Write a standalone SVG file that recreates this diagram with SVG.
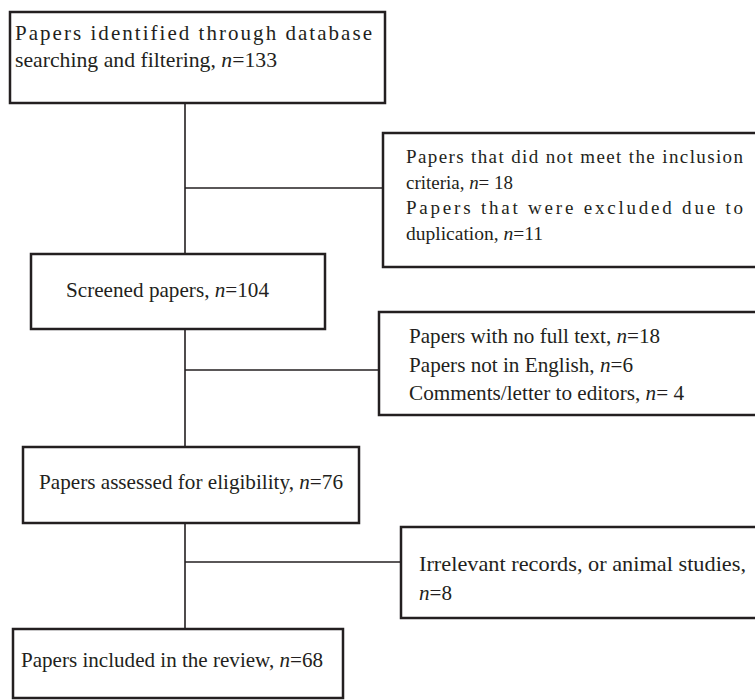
<svg xmlns="http://www.w3.org/2000/svg" width="755" height="700" viewBox="0 0 755 700">
<style>
.box{fill:#fff;stroke:#231f20;stroke-width:2.5}
.ln{stroke:#231f20;stroke-width:1.6;fill:none}
text{font-family:"Liberation Serif","Times New Roman",serif;font-size:21px;fill:#231f20}
.s{font-size:19px}
.i{font-style:italic}
</style>
<rect width="755" height="700" fill="#fff"/>
<g id="connectors">
<line class="ln" x1="185" y1="103" x2="185" y2="254"/>
<line class="ln" x1="185" y1="188" x2="383" y2="188"/>
<line class="ln" x1="185" y1="329" x2="185" y2="447"/>
<line class="ln" x1="185" y1="370" x2="379" y2="370"/>
<line class="ln" x1="185" y1="523" x2="185" y2="629"/>
<line class="ln" x1="185" y1="562" x2="401" y2="562"/>
</g>
<g id="identified">
<rect class="box" x="10" y="12" width="375" height="91"/>
<text x="15" y="40" textLength="357" lengthAdjust="spacing">Papers identified through database</text>
<text x="15" y="67" textLength="262" lengthAdjust="spacingAndGlyphs">searching and filtering, <tspan class="i">n</tspan>=133</text>
</g>
<g id="excluded1">
<rect class="box" x="383" y="133" width="390" height="134"/>
<text class="s" x="406" y="163" textLength="337" lengthAdjust="spacing">Papers that did not meet the inclusion</text>
<text class="s" x="406" y="189" textLength="107" lengthAdjust="spacingAndGlyphs">criteria, <tspan class="i">n</tspan>= 18</text>
<text class="s" x="406" y="214" textLength="337" lengthAdjust="spacing">Papers that were excluded due to</text>
<text class="s" x="406" y="240" textLength="137" lengthAdjust="spacingAndGlyphs">duplication, <tspan class="i">n</tspan>=11</text>
</g>
<g id="screened">
<rect class="box" x="31" y="254" width="294" height="75"/>
<text x="66" y="297" textLength="203" lengthAdjust="spacingAndGlyphs">Screened papers, <tspan class="i">n</tspan>=104</text>
</g>
<g id="excluded2">
<rect class="box" x="379" y="312" width="394" height="103"/>
<text x="409" y="343" textLength="251" lengthAdjust="spacingAndGlyphs">Papers with no full text, <tspan class="i">n</tspan>=18</text>
<text x="409" y="372" textLength="224" lengthAdjust="spacingAndGlyphs">Papers not in English, <tspan class="i">n</tspan>=6</text>
<text x="409" y="400" textLength="275" lengthAdjust="spacingAndGlyphs">Comments/letter to editors, <tspan class="i">n</tspan>= 4</text>
</g>
<g id="assessed">
<rect class="box" x="23" y="447" width="336" height="76"/>
<text x="39" y="489" textLength="304" lengthAdjust="spacingAndGlyphs">Papers assessed for eligibility, <tspan class="i">n</tspan>=76</text>
</g>
<g id="excluded3">
<rect class="box" x="401" y="527" width="372" height="91"/>
<text x="419" y="571" textLength="327" lengthAdjust="spacingAndGlyphs">Irrelevant records, or animal studies,</text>
<text x="419" y="600" textLength="33" lengthAdjust="spacingAndGlyphs"><tspan class="i">n</tspan>=8</text>
</g>
<g id="included">
<rect class="box" x="13" y="629" width="330" height="69"/>
<text x="21" y="667" textLength="302" lengthAdjust="spacingAndGlyphs">Papers included in the review, <tspan class="i">n</tspan>=68</text>
</g>
</svg>
